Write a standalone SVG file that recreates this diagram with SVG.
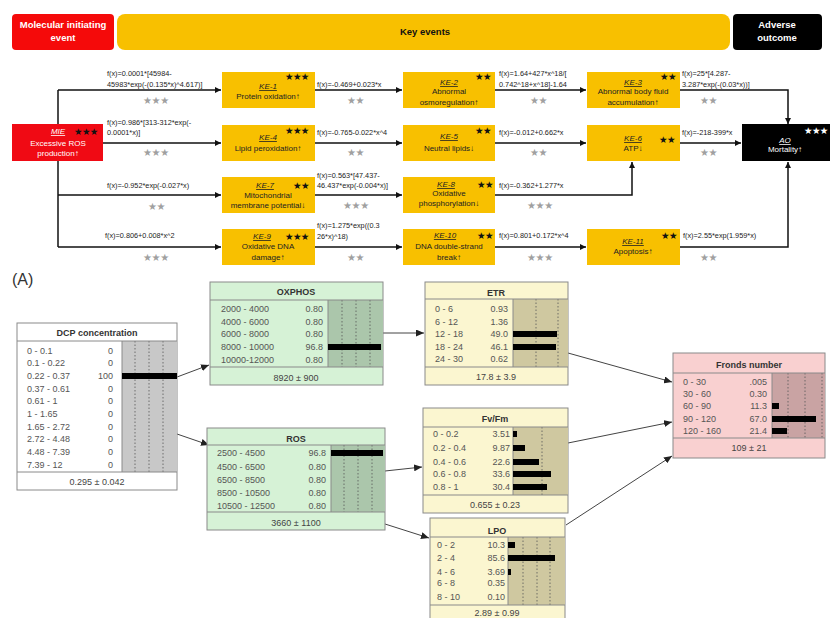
<svg xmlns="http://www.w3.org/2000/svg" width="830" height="618" viewBox="0 0 830 618">
<defs>
<style>
.ban{font-family:"Liberation Sans",Arial,sans-serif;font-size:9.5px;font-weight:bold;text-anchor:middle}
.kt{font-family:"Liberation Sans",Arial,sans-serif;font-size:8px;fill:#222;text-anchor:middle}
.kl{font-family:"Liberation Sans",Arial,sans-serif;font-size:8px;fill:#222;text-anchor:middle;font-style:italic;text-decoration:underline}
.fx{font-family:"Liberation Sans",Arial,sans-serif;font-size:7.3px;fill:#222}
.st{font-family:"DejaVu Sans",sans-serif;font-size:9.5px;fill:#111;letter-spacing:-0.6px}
.gs{font-family:"DejaVu Sans",sans-serif;font-size:10px;fill:#a0a0a0;letter-spacing:-0.4px}
.ke{fill:#f8c000}
.ln{fill:none;stroke:#111;stroke-width:1.5}
.bl{fill:none;stroke:#444;stroke-width:1}
.nt{font-family:"Liberation Sans",Arial,sans-serif;font-size:9px;fill:#333;font-weight:bold;text-anchor:middle}
.nr{font-family:"Liberation Sans",Arial,sans-serif;font-size:9px;fill:#555}
.nv{font-family:"Liberation Sans",Arial,sans-serif;font-size:9px;fill:#555;text-anchor:end}
.nf{font-family:"Liberation Sans",Arial,sans-serif;font-size:9px;fill:#444;text-anchor:middle}
.ob{stroke:#8a8a8a;stroke-width:1}
.sp{stroke:#8a8a8a;stroke-width:1}
.dt{stroke:#555;stroke-width:0.8;stroke-dasharray:1.5 2}
.bar{fill:#000}
.g1{fill:#d6f2d6}.g2{fill:#abc6ab}
.y1{fill:#fbf6d0}.y2{fill:#cfc8a0}
.p1{fill:#f9d0d0}.p2{fill:#c9a3a3}
.w1{fill:#fff}.w2{fill:#c8c8c8}
</style>
<marker id="ah" markerWidth="6" markerHeight="6" refX="6" refY="3" orient="auto" markerUnits="userSpaceOnUse"><path d="M0,0 L6,3 L0,6 z" fill="#111"/></marker>
<marker id="ab" markerWidth="8" markerHeight="7" refX="8" refY="3.5" orient="auto" markerUnits="userSpaceOnUse"><path d="M0,0 L8,3.5 L0,7 z" fill="#222"/></marker>
</defs>
<rect width="830" height="618" fill="#fff"/>

<g id="banner">
<rect x="12" y="14" width="102" height="36" rx="4" fill="#f50a0a"/>
<text class="ban" x="63" y="28" fill="#fff">Molecular initiating</text>
<text class="ban" x="63" y="41" fill="#fff">event</text>
<rect x="117" y="14" width="613" height="36" rx="8" fill="#f8c000"/>
<text class="ban" x="425" y="35" fill="#111">Key events</text>
<rect x="733" y="14" width="89" height="36" rx="4" fill="#000"/>
<text class="ban" x="777" y="28" fill="#fff">Adverse</text>
<text class="ban" x="777" y="41" fill="#fff">outcome</text>
</g>

<g id="aop-connectors">
<path class="ln" d="M58,90 V247"/>
<path class="ln" d="M58,90 H221" marker-end="url(#ah)"/>
<path class="ln" d="M103,143 H221" marker-end="url(#ah)"/>
<path class="ln" d="M58,195 H221" marker-end="url(#ah)"/>
<path class="ln" d="M58,247 H221" marker-end="url(#ah)"/>
<path class="ln" d="M315,90 H402" marker-end="url(#ah)"/>
<path class="ln" d="M495,90 H586" marker-end="url(#ah)"/>
<path class="ln" d="M680,90 H788 V124" marker-end="url(#ah)"/>
<path class="ln" d="M315,143 H402" marker-end="url(#ah)"/>
<path class="ln" d="M495,143 H586" marker-end="url(#ah)"/>
<path class="ln" d="M680,143 H741" marker-end="url(#ah)"/>
<path class="ln" d="M315,195 H402" marker-end="url(#ah)"/>
<path class="ln" d="M495,195 H632 V162" marker-end="url(#ah)"/>
<path class="ln" d="M315,247 H402" marker-end="url(#ah)"/>
<path class="ln" d="M495,247 H586" marker-end="url(#ah)"/>
<path class="ln" d="M680,247 H788 V162" marker-end="url(#ah)"/>
</g>

<g id="aop-labels">
<text class="fx" x="107" y="76">f(x)=0.0001*[45984-</text>
<text class="fx" x="107" y="87">45983*exp(-(0.135*x)^4.617)]</text>
<text class="gs" x="143" y="104">★★★</text>
<text class="fx" x="317" y="87">f(x)=-0.469+0.023*x</text>
<text class="gs" x="347" y="104">★★</text>
<text class="fx" x="499" y="76">f(x)=1.64+427*x^18/[</text>
<text class="fx" x="499" y="87">0.742^18+x^18]-1.64</text>
<text class="gs" x="530" y="104">★★</text>
<text class="fx" x="682" y="76">f(x)=25*[4.287-</text>
<text class="fx" x="682" y="87">3.287*exp(-(0.03*x))]</text>
<text class="gs" x="700" y="104">★★</text>

<text class="fx" x="107" y="125">f(x)=0.986*[313-312*exp(-</text>
<text class="fx" x="107" y="135">0.0001*x)]</text>
<text class="gs" x="143" y="156">★★★</text>
<text class="fx" x="317" y="135">f(x)=-0.765-0.022*x^4</text>
<text class="gs" x="347" y="156">★★</text>
<text class="fx" x="499" y="135">f(x)=-0.012+0.662*x</text>
<text class="gs" x="530" y="156">★★</text>
<text class="fx" x="682" y="135">f(x)=-218-399*x</text>
<text class="gs" x="700" y="156">★★</text>

<text class="fx" x="107" y="188">f(x)=-0.952*exp(-0.027*x)</text>
<text class="gs" x="148" y="210">★★</text>
<text class="fx" x="317" y="178">f(x)=0.563*[47.437-</text>
<text class="fx" x="317" y="188">46.437*exp(-0.004*x)]</text>
<text class="gs" x="343" y="209">★★★</text>
<text class="fx" x="499" y="188">f(x)=-0.362+1.277*x</text>
<text class="gs" x="527" y="209">★★★</text>

<text class="fx" x="105" y="238">f(x)=0.806+0.008*x^2</text>
<text class="gs" x="143" y="261">★★★</text>
<text class="fx" x="317" y="228">f(x)=1.275*exp((0.3</text>
<text class="fx" x="317" y="239">26*x)^18)</text>
<text class="gs" x="347" y="261">★★</text>
<text class="fx" x="499" y="238">f(x)=0.801+0.172*x^4</text>
<text class="gs" x="527" y="261">★★★</text>
<text class="fx" x="683" y="238">f(x)=2.55*exp(1.959*x)</text>
<text class="gs" x="700" y="261">★★</text>
</g>

<g id="MIE">
<rect x="12" y="124" width="91" height="37" fill="#f00a14"/>
<text class="kl" x="58" y="134" style="fill:#fff">MIE</text>
<text class="st" x="74" y="135">★★★</text>
<text class="kt" x="58" y="146" style="fill:#fff">Excessive ROS</text>
<text class="kt" x="58" y="156" style="fill:#fff">production↑</text>
</g>
<g id="AO">
<rect x="742" y="124" width="90" height="37" fill="#000"/>
<text class="st" x="804" y="134" style="fill:#fff">★★★</text>
<text class="kl" x="785" y="143" style="fill:#fff">AO</text>
<text class="kt" x="785" y="152" style="fill:#fff">Mortality↑</text>
</g>

<g id="KE-1"><rect class="ke" x="222" y="72" width="93" height="36"/>
<text class="st" x="285" y="80">★★★</text>
<text class="kl" x="268" y="89">KE-1</text>
<text class="kt" x="268" y="99">Protein oxidation↑</text></g>
<g id="KE-2"><rect class="ke" x="403" y="72" width="92" height="36"/>
<text class="st" x="475" y="80">★★</text>
<text class="kl" x="449" y="85">KE-2</text>
<text class="kt" x="449" y="94">Abnormal</text>
<text class="kt" x="449" y="105">osmoregulation↑</text></g>
<g id="KE-3"><rect class="ke" x="587" y="72" width="93" height="36"/>
<text class="st" x="660" y="80">★★</text>
<text class="kl" x="633" y="85">KE-3</text>
<text class="kt" x="633" y="94">Abnormal body fluid</text>
<text class="kt" x="633" y="105">accumulation↑</text></g>

<g id="KE-4"><rect class="ke" x="222" y="125" width="93" height="36"/>
<text class="st" x="285" y="134">★★★</text>
<text class="kl" x="268" y="140">KE-4</text>
<text class="kt" x="268" y="151">Lipid peroxidation↑</text></g>
<g id="KE-5"><rect class="ke" x="403" y="125" width="92" height="36"/>
<text class="st" x="475" y="134">★★</text>
<text class="kl" x="449" y="139">KE-5</text>
<text class="kt" x="449" y="151">Neutral lipids↓</text></g>
<g id="KE-6"><rect class="ke" x="587" y="125" width="93" height="36"/>
<text class="st" x="659" y="143">★★</text>
<text class="kl" x="633" y="141">KE-6</text>
<text class="kt" x="633" y="151">ATP↓</text></g>

<g id="KE-7"><rect class="ke" x="222" y="177" width="93" height="36"/>
<text class="kl" x="265" y="188">KE-7</text>
<text class="st" x="293" y="189">★★</text>
<text class="kt" x="268" y="198">Mitochondrial</text>
<text class="kt" x="268" y="208">membrane potential↓</text></g>
<g id="KE-8"><rect class="ke" x="403" y="177" width="92" height="36"/>
<text class="kl" x="446" y="187">KE-8</text>
<text class="st" x="477" y="188">★★</text>
<text class="kt" x="449" y="196">Oxidative</text>
<text class="kt" x="449" y="206">phosphorylation↓</text></g>

<g id="KE-9"><rect class="ke" x="222" y="229" width="93" height="36"/>
<text class="kl" x="262" y="239">KE-9</text>
<text class="st" x="285" y="240">★★★</text>
<text class="kt" x="268" y="249">Oxidative DNA</text>
<text class="kt" x="268" y="260">damage↑</text></g>
<g id="KE-10"><rect class="ke" x="403" y="229" width="92" height="36"/>
<text class="kl" x="445" y="238">KE-10</text>
<text class="st" x="477" y="239">★★</text>
<text class="kt" x="449" y="249">DNA double-strand</text>
<text class="kt" x="449" y="260">break↑</text></g>
<g id="KE-11"><rect class="ke" x="587" y="229" width="93" height="36"/>
<text class="st" x="661" y="239">★★</text>
<text class="kl" x="633" y="244">KE-11</text>
<text class="kt" x="633" y="254">Apoptosis↑</text></g>

<text x="12" y="285" font-family="Liberation Sans,Arial,sans-serif" font-size="16" fill="#333">(A)</text>

<g id="bn-connectors">
<path class="bl" d="M177,377 L209,365" marker-end="url(#ab)"/>
<path class="bl" d="M177,434 L209,445" marker-end="url(#ab)"/>
<path class="bl" d="M383,333 L424,333" marker-end="url(#ab)"/>
<path class="bl" d="M385,471 L422,467" marker-end="url(#ab)"/>
<path class="bl" d="M385,524 L429,538" marker-end="url(#ab)"/>
<path class="bl" d="M568,353 L672,382" marker-end="url(#ab)"/>
<path class="bl" d="M568,443 L672,422" marker-end="url(#ab)"/>
<path class="bl" d="M566,525 L672,456" marker-end="url(#ab)"/>
</g>

<g id="DCP">
<rect class="w1 ob" x="17" y="323" width="160" height="167"/>
<rect class="w2" x="122" y="341" width="55" height="131"/>
<line class="dt" x1="135" y1="341" x2="135" y2="472"/><line class="dt" x1="149" y1="341" x2="149" y2="472"/><line class="dt" x1="163" y1="341" x2="163" y2="472"/>
<line class="sp" x1="122" y1="341" x2="122" y2="472"/>
<line class="sp" x1="17" y1="341" x2="177" y2="341"/><line class="sp" x1="17" y1="472" x2="177" y2="472"/>
<rect class="bar" x="122" y="373" width="55" height="6"/>
<text class="nt" x="97" y="336">DCP concentration</text>
<text class="nr" x="27" y="353.5">0 - 0.1</text><text class="nv" x="113" y="353.5">0</text>
<text class="nr" x="27" y="366.2">0.1 - 0.22</text><text class="nv" x="113" y="366.2">0</text>
<text class="nr" x="27" y="378.9">0.22 - 0.37</text><text class="nv" x="113" y="378.9">100</text>
<text class="nr" x="27" y="391.6">0.37 - 0.61</text><text class="nv" x="113" y="391.6">0</text>
<text class="nr" x="27" y="404.3">0.61 - 1</text><text class="nv" x="113" y="404.3">0</text>
<text class="nr" x="27" y="417">1 - 1.65</text><text class="nv" x="113" y="417">0</text>
<text class="nr" x="27" y="429.7">1.65 - 2.72</text><text class="nv" x="113" y="429.7">0</text>
<text class="nr" x="27" y="442.4">2.72 - 4.48</text><text class="nv" x="113" y="442.4">0</text>
<text class="nr" x="27" y="455.1">4.48 - 7.39</text><text class="nv" x="113" y="455.1">0</text>
<text class="nr" x="27" y="467.8">7.39 - 12</text><text class="nv" x="113" y="467.8">0</text>
<text class="nf" x="97" y="485">0.295 ± 0.042</text>
</g>

<g id="OXPHOS">
<rect class="g1 ob" x="210" y="282" width="173" height="103"/>
<rect class="g2" x="328" y="300" width="55" height="67"/>
<line class="dt" x1="342" y1="300" x2="342" y2="367"/><line class="dt" x1="356" y1="300" x2="356" y2="367"/><line class="dt" x1="370" y1="300" x2="370" y2="367"/>
<line class="sp" x1="328" y1="300" x2="328" y2="367"/>
<line class="sp" x1="210" y1="300" x2="383" y2="300"/><line class="sp" x1="210" y1="367" x2="383" y2="367"/>
<rect class="bar" x="328" y="344" width="53" height="6"/>
<text class="nt" x="296" y="295">OXPHOS</text>
<text class="nr" x="221" y="312">2000 - 4000</text><text class="nv" x="323" y="312">0.80</text>
<text class="nr" x="221" y="325">4000 - 6000</text><text class="nv" x="323" y="325">0.80</text>
<text class="nr" x="221" y="337">6000 - 8000</text><text class="nv" x="323" y="337">0.80</text>
<text class="nr" x="221" y="350">8000 - 10000</text><text class="nv" x="323" y="350">96.8</text>
<text class="nr" x="221" y="363">10000-12000</text><text class="nv" x="323" y="363">0.80</text>
<text class="nf" x="296" y="381">8920 ± 900</text>
</g>

<g id="ROS">
<rect class="g1 ob" x="207" y="428" width="178" height="102"/>
<rect class="g2" x="331" y="445" width="54" height="67"/>
<line class="dt" x1="344" y1="445" x2="344" y2="512"/><line class="dt" x1="358" y1="445" x2="358" y2="512"/><line class="dt" x1="372" y1="445" x2="372" y2="512"/>
<line class="sp" x1="331" y1="445" x2="331" y2="512"/>
<line class="sp" x1="207" y1="445" x2="385" y2="445"/><line class="sp" x1="207" y1="512" x2="385" y2="512"/>
<rect class="bar" x="331" y="450" width="52" height="6"/>
<text class="nt" x="296" y="442">ROS</text>
<text class="nr" x="217" y="456">2500 - 4500</text><text class="nv" x="326" y="456">96.8</text>
<text class="nr" x="217" y="470">4500 - 6500</text><text class="nv" x="326" y="470">0.80</text>
<text class="nr" x="217" y="483">6500 - 8500</text><text class="nv" x="326" y="483">0.80</text>
<text class="nr" x="217" y="496">8500 - 10500</text><text class="nv" x="326" y="496">0.80</text>
<text class="nr" x="217" y="509">10500 - 12500</text><text class="nv" x="326" y="509">0.80</text>
<text class="nf" x="296" y="526">3660 ± 1100</text>
</g>

<g id="ETR">
<rect class="y1 ob" x="425" y="282" width="143" height="103"/>
<rect class="y2" x="513" y="299" width="55" height="68"/>
<line class="dt" x1="536" y1="299" x2="536" y2="367"/><line class="dt" x1="558" y1="299" x2="558" y2="367"/>
<line class="sp" x1="513" y1="299" x2="513" y2="367"/>
<line class="sp" x1="425" y1="299" x2="568" y2="299"/><line class="sp" x1="425" y1="367" x2="568" y2="367"/>
<rect class="bar" x="513" y="331" width="44" height="6"/>
<rect class="bar" x="513" y="344" width="43" height="6"/>
<text class="nt" x="496" y="296">ETR</text>
<text class="nr" x="435" y="312">0 - 6</text><text class="nv" x="508" y="312">0.93</text>
<text class="nr" x="435" y="325">6 - 12</text><text class="nv" x="508" y="325">1.36</text>
<text class="nr" x="435" y="337">12 - 18</text><text class="nv" x="508" y="337">49.0</text>
<text class="nr" x="435" y="350">18 - 24</text><text class="nv" x="508" y="350">46.1</text>
<text class="nr" x="435" y="362">24 - 30</text><text class="nv" x="508" y="362">0.62</text>
<text class="nf" x="496" y="380">17.8 ± 3.9</text>
</g>

<g id="FvFm">
<rect class="y1 ob" x="423" y="408" width="145" height="105"/>
<rect class="y2" x="513" y="427" width="55" height="68"/>
<line class="dt" x1="542" y1="427" x2="542" y2="495"/>
<line class="sp" x1="513" y1="427" x2="513" y2="495"/>
<line class="sp" x1="423" y1="427" x2="568" y2="427"/><line class="sp" x1="423" y1="495" x2="568" y2="495"/>
<rect class="bar" x="513" y="431" width="4" height="6"/>
<rect class="bar" x="513" y="445" width="12" height="6"/>
<rect class="bar" x="513" y="459" width="26" height="6"/>
<rect class="bar" x="513" y="471" width="38" height="6"/>
<rect class="bar" x="513" y="484" width="34" height="6"/>
<text class="nt" x="495" y="422">Fv/Fm</text>
<text class="nr" x="433" y="437">0 - 0.2</text><text class="nv" x="510" y="437">3.51</text>
<text class="nr" x="433" y="451">0.2 - 0.4</text><text class="nv" x="510" y="451">9.87</text>
<text class="nr" x="433" y="465">0.4 - 0.6</text><text class="nv" x="510" y="465">22.6</text>
<text class="nr" x="433" y="477">0.6 - 0.8</text><text class="nv" x="510" y="477">33.6</text>
<text class="nr" x="433" y="490">0.8 - 1</text><text class="nv" x="510" y="490">30.4</text>
<text class="nf" x="495" y="508">0.655 ± 0.23</text>
</g>

<g id="LPO">
<rect class="y1 ob" x="430" y="518" width="135" height="104"/>
<rect class="y2" x="508" y="537" width="57" height="68"/>
<line class="dt" x1="523" y1="537" x2="523" y2="605"/><line class="dt" x1="537" y1="537" x2="537" y2="605"/><line class="dt" x1="550" y1="537" x2="550" y2="605"/>
<line class="sp" x1="508" y1="537" x2="508" y2="605"/>
<line class="sp" x1="430" y1="537" x2="565" y2="537"/><line class="sp" x1="430" y1="605" x2="565" y2="605"/>
<rect class="bar" x="508" y="542" width="7" height="6"/>
<rect class="bar" x="508" y="555" width="47" height="6"/>
<rect class="bar" x="508" y="569" width="3" height="6"/>
<text class="nt" x="497" y="534">LPO</text>
<text class="nr" x="437" y="548">0 - 2</text><text class="nv" x="505" y="548">10.3</text>
<text class="nr" x="437" y="561">2 - 4</text><text class="nv" x="505" y="561">85.6</text>
<text class="nr" x="437" y="575">4 - 6</text><text class="nv" x="505" y="575">3.69</text>
<text class="nr" x="437" y="586">6 - 8</text><text class="nv" x="505" y="586">0.35</text>
<text class="nr" x="437" y="600">8 - 10</text><text class="nv" x="505" y="600">0.10</text>
<text class="nf" x="497" y="616">2.89 ± 0.99</text>
</g>

<g id="Fronds">
<rect class="p1 ob" x="673" y="353" width="152" height="105"/>
<rect class="p2" x="772" y="373" width="53" height="65"/>
<line class="dt" x1="788" y1="373" x2="788" y2="438"/><line class="dt" x1="805" y1="373" x2="805" y2="438"/><line class="dt" x1="822" y1="373" x2="822" y2="438"/>
<line class="sp" x1="772" y1="373" x2="772" y2="438"/>
<line class="sp" x1="673" y1="373" x2="825" y2="373"/><line class="sp" x1="673" y1="438" x2="825" y2="438"/>
<rect class="bar" x="772" y="403" width="7" height="6"/>
<rect class="bar" x="772" y="416" width="44" height="6"/>
<rect class="bar" x="772" y="428" width="15" height="6"/>
<text class="nt" x="749" y="368">Fronds number</text>
<text class="nr" x="683" y="385">0 - 30</text><text class="nv" x="767" y="385">.005</text>
<text class="nr" x="683" y="397">30 - 60</text><text class="nv" x="767" y="397">0.30</text>
<text class="nr" x="683" y="409">60 - 90</text><text class="nv" x="767" y="409">11.3</text>
<text class="nr" x="683" y="422">90 - 120</text><text class="nv" x="767" y="422">67.0</text>
<text class="nr" x="683" y="434">120 - 160</text><text class="nv" x="767" y="434">21.4</text>
<text class="nf" x="749" y="451">109 ± 21</text>
</g>
</svg>
